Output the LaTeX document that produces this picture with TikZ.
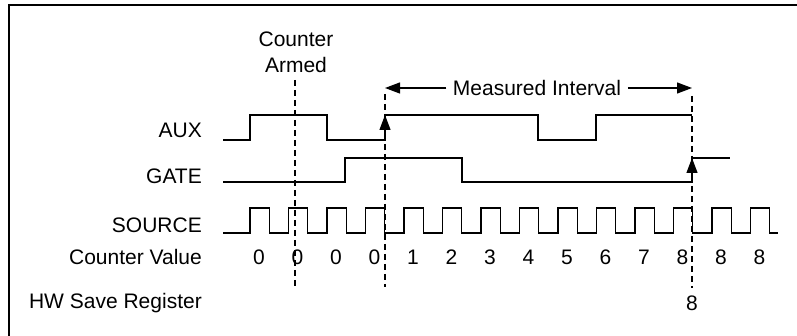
\documentclass[tikz,border=0pt]{standalone}
\usepackage{fontspec}
\setmainfont{Liberation Sans}
\usetikzlibrary{positioning, arrows.meta}

\begin{document}
\begin{tikzpicture}[x=1pt, y=-1pt, >={Triangle[length=15pt, width=11pt]},
        every node/.style={inner sep=0pt, font=\fontsize{21}{25}\selectfont},
        sig/.style={line width=1.2pt},
        guide/.style={line width=1.2pt, dash pattern=on 6pt off 4pt},
        lbl/.style={anchor=base east}]
        \useasboundingbox (0,0) rectangle (797,336);
        \draw[line width=2pt] (9,336) -- (9,5.3) -- (797,5.3);

        % signal names
        \node[lbl] (aux) at (202,137.5) {AUX};
        \node[lbl] (gate) at (202,184) {GATE};
        \node[lbl] (src) at (202,233) {SOURCE};
        \node[lbl] (cval) at (202,264.5) {Counter Value};
        \node[lbl] (hwreg) at (202,308.5) {HW Save Register};

        \node[anchor=base] (cntr) at (296,47) {Counter};
        \node[anchor=base] (armd) at (296,72.5) {Armed};
        \node[inner xsep=6.5pt] (meas) at (537,88) {Measured Interval};

        % guide lines
        \coordinate (armtop) at (295,80);
        \coordinate (armbot) at (295,287);
        \coordinate (ml) at (385,88);
        \coordinate (mlbot) at (385,287);
        \coordinate (mr) at (692,88);
        \coordinate (mrbot) at (692,288);
        \draw[guide] (armtop) -- (armbot);
        \draw[guide] ([yshift=-6pt]ml) -- (mlbot);
        \draw[guide] ([yshift=-8pt]mr) -- (mrbot);
        \draw[->, line width=1.2pt] (meas) -- (ml);
        \draw[->, line width=1.2pt] (meas) -- (mr);

        % waveforms
        \draw[sig] (223,140) -- (250,140) -- (250,115) -- (327,115) -- (327,140)
            -- (385,140) -- (385,115) -- (538,115) -- (538,140) -- (596,140)
            -- (596,115) -- (692,115);
        \draw[sig] (223,182) -- (345,182) -- (345,158) -- (462,158) -- (462,182)
            -- (692,182) -- (692,158) -- (730,158);
        \draw[sig] (223,233) \foreach \k in {0,...,13} {
            -- ({250+38.5*\k},233) -- ++(0,-25) -- ++(19.25,0) -- ++(0,25)}
            -- (778,233);

        \coordinate (auxlo) at (385,140);
        \coordinate (auxhi) at (385,115);
        \coordinate (gatelo) at (692,182);
        \coordinate (gatehi) at (692,158);
        \draw[->, line width=1.2pt] (auxlo) -- (auxhi);
        \draw[->, line width=1.2pt] (gatelo) -- (gatehi);

        % counter values
        \foreach \v [count=\k from 0] in {0,0,0,0,1,2,3,4,5,6,7,8,8,8}
            \node[anchor=base] (cv\k) at ({259+38.5*\k},265) {\v};
        \node[anchor=base] (hw8) at (692,311) {8};
    \end{tikzpicture}
\end{document}
